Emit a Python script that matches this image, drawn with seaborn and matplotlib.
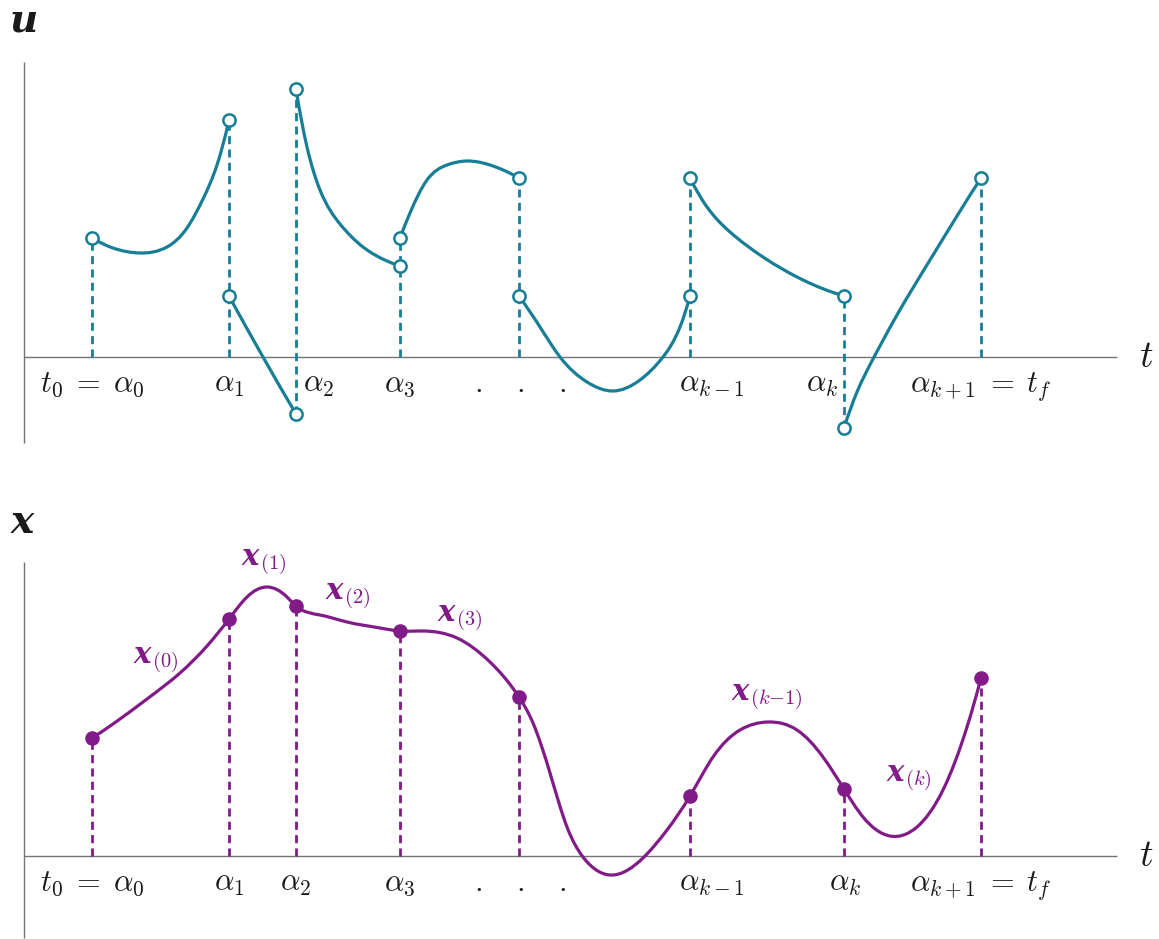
import numpy as np
import pandas as pd
import matplotlib
matplotlib.use("Agg")
import matplotlib.pyplot as plt
from matplotlib.path import Path
from matplotlib.patches import PathPatch
import seaborn as sns

# ---- switching times alpha_0 ... alpha_{k+1} -------------------------------
knots = [92, 229, 296, 400, 519, 690, 844, 981]

tick_text = [r"$t_0 \;=\; \alpha_0$", r"$\alpha_1$", r"$\alpha_2$", r"$\alpha_3$",
             r"$\alpha_{k-1}$", r"$\alpha_k$", r"$\alpha_{k+1} \;=\; t_f$"]
tick_pos_u = [92, 229, 319, 400, 712, 822, 981]
tick_pos_x = [92, 229, 296, 400, 712, 845, 981]
ellipsis_pos = [478, 520, 562]

# ---- control u(t): one smooth piece per interval (discontinuous at knots) ----
u0_t = [92, 113, 140, 167, 187, 203, 217, 229]
u0_v = [119, 109, 104, 110, 129, 158, 192, 237]
u1_t = [229, 263, 296]
u1_v = [61, 0, -57]
u2_t = [296, 307, 320, 340, 363, 387, 400]
u2_v = [268, 210, 167, 133, 110, 96, 91]
u3_t = [400, 410, 427, 447, 467, 490, 519]
u3_v = [119, 144, 177, 192, 196, 192, 179]
u4_t = [519, 540, 560, 587, 613, 640, 663, 680, 690]
u4_v = [61, 30, 0, -25, -34, -23, 0, 30, 61]
u5_t = [690, 707, 730, 763, 803, 844]
u5_v = [179, 150, 125, 100, 77, 61]
u6_t = [844, 857, 873, 897, 930, 957, 981]
u6_v = [-71, -35, -2, 42, 97, 141, 179]

# ---- state x(t): continuous trajectory ---------------------------------------
x_t = [92, 113, 147, 180, 207, 229, 247, 267, 287, 296, 320, 347, 380, 400,
       423, 457, 490, 519, 533, 550, 567, 583, 613, 643, 667, 690, 713, 740,
       768, 797, 823, 844, 863, 890, 917, 943, 967, 981]
x_v = [118, 132, 157, 183, 210, 237, 259, 269, 259, 250, 241, 234, 228, 225,
       225, 218, 194, 159, 133, 83, 29, -1, -19, -2, 26, 60, 99, 126,
       134, 126, 99, 67, 39, 20, 29, 66, 129, 178]

seg_labels = ["(0)", "(1)", "(2)", "(3)", "(k-1)", "(k)"]
seg_label_t = [156, 264, 348, 460, 767, 909]
seg_label_v = [195, 293, 259, 237, 158, 77]

TEAL = "#177e95"
PURPLE = "#801b87"
AXIS = "#747474"
INK = "#1a1a1a"

sns.set_theme(style="white")
plt.rcParams["mathtext.fontset"] = "cm"
plt.rcParams["font.family"] = ["DejaVu Serif", "DejaVu Sans"]


def spline_path(t, v):
    """Cubic spline v(t) through the points (parabolic end runout),
    drawn as Bezier arcs."""
    t = np.asarray(t, float)
    v = np.asarray(v, float)
    n = len(t)
    if n == 2:
        return Path(np.column_stack([t, v]))
    h = np.diff(t)
    d = np.diff(v) / h
    A = np.zeros((n, n))
    b = np.zeros(n)
    A[0, 0], A[0, 1], b[0] = 1.0, 1.0, 2.0 * d[0]
    A[-1, -2], A[-1, -1], b[-1] = 1.0, 1.0, 2.0 * d[-1]
    for i in range(1, n - 1):
        A[i, i - 1] = h[i]
        A[i, i] = 2.0 * (h[i - 1] + h[i])
        A[i, i + 1] = h[i - 1]
        b[i] = 3.0 * (h[i] * d[i - 1] + h[i - 1] * d[i])
    m = np.linalg.solve(A, b)
    verts = [(t[0], v[0])]
    codes = [Path.MOVETO]
    for i in range(n - 1):
        verts += [(t[i] + h[i] / 3.0, v[i] + m[i] * h[i] / 3.0),
                  (t[i + 1] - h[i] / 3.0, v[i + 1] - m[i + 1] * h[i] / 3.0),
                  (t[i + 1], v[i + 1])]
        codes += [Path.CURVE4] * 3
    return Path(verts, codes)


def draw_axes_frame(ax, v_lo, v_hi):
    ax.plot([24, 24], [v_lo, v_hi], color=AXIS, lw=1.0, solid_capstyle="butt")
    ax.plot([24, 1117], [0, 0], color=AXIS, lw=1.0, solid_capstyle="butt")
    ax.text(1146, 0, r"$t$", fontsize=27, ha="center", va="center", color=INK)


def draw_ticks(ax, positions):
    for pos, txt in zip(positions, tick_text):
        ax.text(pos, -35, txt, fontsize=22, ha="center", va="baseline",
                color=INK)
    for pos in ellipsis_pos:
        ax.text(pos, -35, r"$.$", fontsize=22, ha="center", va="baseline",
                color=INK)


fig = plt.figure(figsize=(11.59, 9.39), dpi=100)
fig.patch.set_facecolor("white")
ax_u = fig.add_axes([0, 469 / 939, 1, 470 / 939])
ax_x = fig.add_axes([0, 0, 1, 469 / 939])
ax_u.set_xlim(0, 1159)
ax_u.set_ylim(-113, 357)
ax_x.set_xlim(0, 1159)
ax_x.set_ylim(-83, 386)
for ax in (ax_u, ax_x):
    ax.axis("off")

dash = (0, (2.9, 1.9))

# ---------------- top panel: u ----------------
draw_axes_frame(ax_u, -86, 295)
draw_ticks(ax_u, tick_pos_u)
ax_u.text(24, 337, "u", fontsize=28, fontweight="bold", fontstyle="italic",
          ha="center", va="center", color=INK)

pieces = [(u0_t, u0_v), (u1_t, u1_v), (u2_t, u2_v), (u3_t, u3_v),
          (u4_t, u4_v), (u5_t, u5_v), (u6_t, u6_v)]

ends = []
for t, v in pieces:
    ax_u.add_patch(PathPatch(spline_path(t, v), facecolor="none",
                             edgecolor=TEAL, lw=2.3, capstyle="round",
                             zorder=3))
    ends.append((t[0], v[0]))
    ends.append((t[-1], v[-1]))

ends_df = pd.DataFrame(ends, columns=["t", "u"])
for tk, grp in ends_df.groupby("t"):
    lo = min(0, grp["u"].min())
    hi = max(0, grp["u"].max())
    ax_u.plot([tk, tk], [lo, hi], color=TEAL, lw=2.0, ls=dash, zorder=2)

sns.scatterplot(data=ends_df, x="t", y="u", ax=ax_u, s=78, marker="o",
                facecolor="white", edgecolor=TEAL, linewidth=1.8, zorder=5,
                legend=False)

# ---------------- bottom panel: x ----------------
draw_axes_frame(ax_x, -82, 294)
draw_ticks(ax_x, tick_pos_x)
ax_x.text(22, 334, "x", fontsize=28, fontweight="bold", fontstyle="italic",
          ha="center", va="center", color=INK)

ax_x.add_patch(PathPatch(spline_path(x_t, x_v), facecolor="none",
                         edgecolor=PURPLE, lw=2.3, capstyle="round", zorder=3))

state_df = pd.DataFrame({"t": x_t, "x": x_v})
dots_df = state_df[state_df["t"].isin(knots)]
for _, row in dots_df.iterrows():
    ax_x.plot([row["t"], row["t"]], [min(0, row["x"]), max(0, row["x"])],
              color=PURPLE, lw=2.0, ls=dash, zorder=2)

sns.scatterplot(data=dots_df, x="t", y="x", ax=ax_x, s=110, color=PURPLE,
                linewidth=0, zorder=5, legend=False)

for lab, lt, lv in zip(seg_labels, seg_label_t, seg_label_v):
    sub = lab.replace("-", "{-}")
    ax_x.text(lt, lv, "x" + r"$_{" + sub + r"}$", fontsize=21,
              fontweight="bold", fontstyle="italic", ha="center",
              va="center", color=PURPLE)

fig.savefig("out.png", dpi=100, facecolor="white")
